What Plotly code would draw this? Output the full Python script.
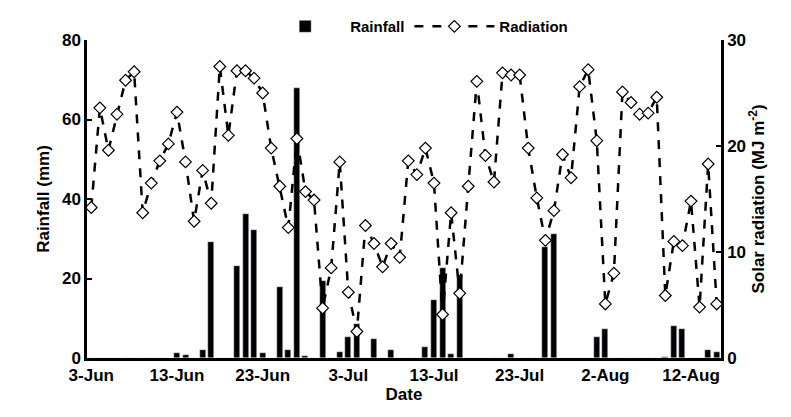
import pandas as pd
import plotly.graph_objects as go

# daily series from 3-Jun to 15-Aug
dates = pd.date_range("2000-06-03", "2000-08-15", freq="D")

radiation = [14.2, 23.6, 19.6, 23.0, 26.2, 27.0, 13.7, 16.5, 18.6, 20.2,
             23.2, 18.5, 12.9, 17.7, 14.6, 27.5, 21.0, 27.1, 27.1, 26.4,
             25.0, 19.8, 16.2, 12.3, 20.7, 15.7, 14.9, 4.7, 8.5, 18.5,
             6.2, 2.5, 12.5, 10.8, 8.6, 10.8, 9.5, 18.6, 17.3, 19.8,
             16.5, 4.1, 13.7, 6.1, 16.2, 26.1, 19.1, 16.6, 26.9, 26.7,
             26.7, 19.8, 15.1, 11.1, 13.9, 19.2, 17.0, 25.6, 27.2, 20.5,
             5.1, 8.0, 25.1, 24.1, 23.0, 23.1, 24.6, 5.9, 11.0, 10.6,
             14.8, 4.8, 18.3, 5.1]

rain_days = [10, 11, 13, 14, 17, 18, 19, 20, 22, 23, 24, 25, 27, 29, 30, 31, 33, 35,
             39, 40, 41, 42, 43, 49, 53, 54, 59, 60, 67, 68, 69, 72, 73]
rain_mm = [1.2, 0.8, 2.0, 29.2, 23.2, 36.2, 32.2, 1.2, 17.9, 1.9, 68.0, 0.5, 19.4, 1.5, 5.3, 8.6, 4.7, 1.9,
           2.8, 14.5, 22.7, 1.1, 20.8, 1.0, 28.0, 31.3, 5.3, 7.2, 0.3, 8.1, 7.2, 1.9, 1.5]

rain = [0.0] * len(dates)
for d, v in zip(rain_days, rain_mm):
    rain[d] = v

tick_dates = pd.date_range("2000-06-03", "2000-08-12", freq="10D")

font = dict(family="Liberation Sans", size=17, color="black")

fig = go.Figure()
fig.add_trace(go.Bar(x=dates, y=rain, name="<b>Rainfall</b>", marker_color="black",
                     width=0.7 * 86400000))
fig.add_trace(go.Scatter(x=dates, y=radiation, name="<b>Radiation</b>", yaxis="y2",
                         mode="lines+markers",
                         line=dict(color="black", width=2.5, dash="dash"),
                         marker=dict(symbol="diamond", size=9, color="white",
                                     line=dict(color="black", width=1.2))))

axis_common = dict(showline=True, linecolor="black", linewidth=2.5, ticks="inside",
                   tickcolor="black", tickwidth=2, ticklen=5, showgrid=False,
                   zeroline=False, tickfont=font)

fig.update_layout(
    width=791, height=417,
    margin=dict(l=79, r=78, t=32, b=67, autoexpand=False),
    plot_bgcolor="white", paper_bgcolor="white",
    font=font,
    bargap=0,
    showlegend=True,
    legend=dict(orientation="h", x=0.52, xanchor="center", yref="container", y=0.995, yanchor="top",
                font=dict(family="Liberation Sans", size=15, color="black"),
                itemwidth=80, bgcolor="rgba(0,0,0,0)"),
    xaxis=dict(axis_common, ticks="", range=[dates[0] - pd.Timedelta(hours=12), dates[-1] + pd.Timedelta(hours=12)],
               tickvals=tick_dates, ticktext=[f"<b>{d.day}-{d.strftime('%b')}</b>" for d in tick_dates],
               title=dict(text="<b>Date</b>", font=font, standoff=2)),
    yaxis=dict(axis_common, range=[0, 80], tickvals=[0, 20, 40, 60, 80],
               ticktext=[f"<b>{v}</b>" for v in [0, 20, 40, 60, 80]],
               title=dict(text="<b>Rainfall (mm)</b>", font=font, standoff=8)),
    yaxis2=dict(axis_common, overlaying="y", side="right", range=[0, 30],
                tickvals=[0, 10, 20, 30], ticktext=[f"<b>{v}</b>" for v in [0, 10, 20, 30]],
                title=dict(text="<b>Solar radiation (MJ m<sup>-2</sup>)</b>", font=font, standoff=8)),
)

fig.write_html("out.html")
